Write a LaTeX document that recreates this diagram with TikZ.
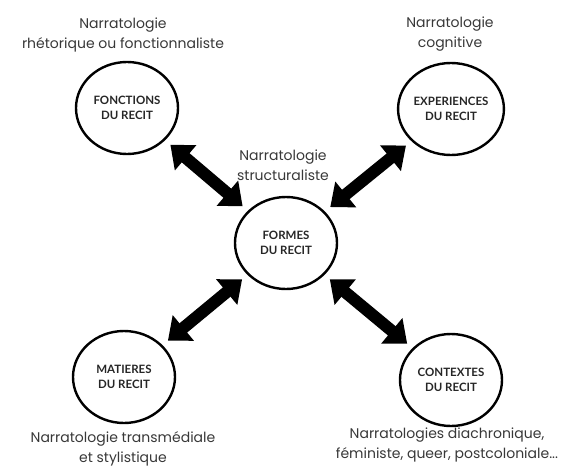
\documentclass[tikz,border=0pt]{standalone}
\usepackage{fontspec}
\setmainfont{Poppins}
\newfontfamily\circfont{Lato}
\usetikzlibrary{arrows.meta,shapes.geometric}
\begin{document}
\begin{tikzpicture}[x=1pt,y=-1pt,
  circ/.style={ellipse,draw=black,line width=2.4pt,minimum width=102pt,minimum height=92pt,inner sep=0pt,
    align=center,font=\circfont\bfseries\fontsize{11.5}{14.5}\selectfont,text=black!85},
  lab/.style={align=center,font=\fontsize{14}{19.5}\selectfont,text=black!78},
  bigarrow/.style={line width=12pt,{Triangle[width=32pt,length=20pt]}-{Triangle[width=32pt,length=20pt]},shorten <=7pt,shorten >=7pt}]
\useasboundingbox (0,0) rectangle (579,469);
\node[circ] (fon) at (127,108) {FONCTIONS\\DU RECIT};
\node[circ] (exp) at (451,109) {EXPERIENCES\\DU RECIT};
\node[circ] (for) at (286,243) {FORMES\\DU RECIT};
\node[circ] (mat) at (124,377) {MATIERES\\DU RECIT};
\node[circ] (con) at (451,380) {CONTEXTES\\DU RECIT};
\node[lab] (lfon) at (123,35) {Narratologie\\rhétorique ou fonctionnaliste};
\node[lab] (lexp) at (450,34) {Narratologie\\cognitive};
\node[lab] (lfor) at (283,165) {Narratologie\\structuraliste};
\node[lab] (lmat) at (123,449) {Narratologie transmédiale\\et stylistique};
\node[lab] (lcon) at (447,445) {Narratologies diachronique,\\féministe, queer, postcoloniale...};
\draw[bigarrow] (fon) -- (for);
\draw[bigarrow] (exp) -- (for);
\draw[bigarrow] (mat) -- (for);
\draw[bigarrow] (con) -- (for);
\end{tikzpicture}
\end{document}
